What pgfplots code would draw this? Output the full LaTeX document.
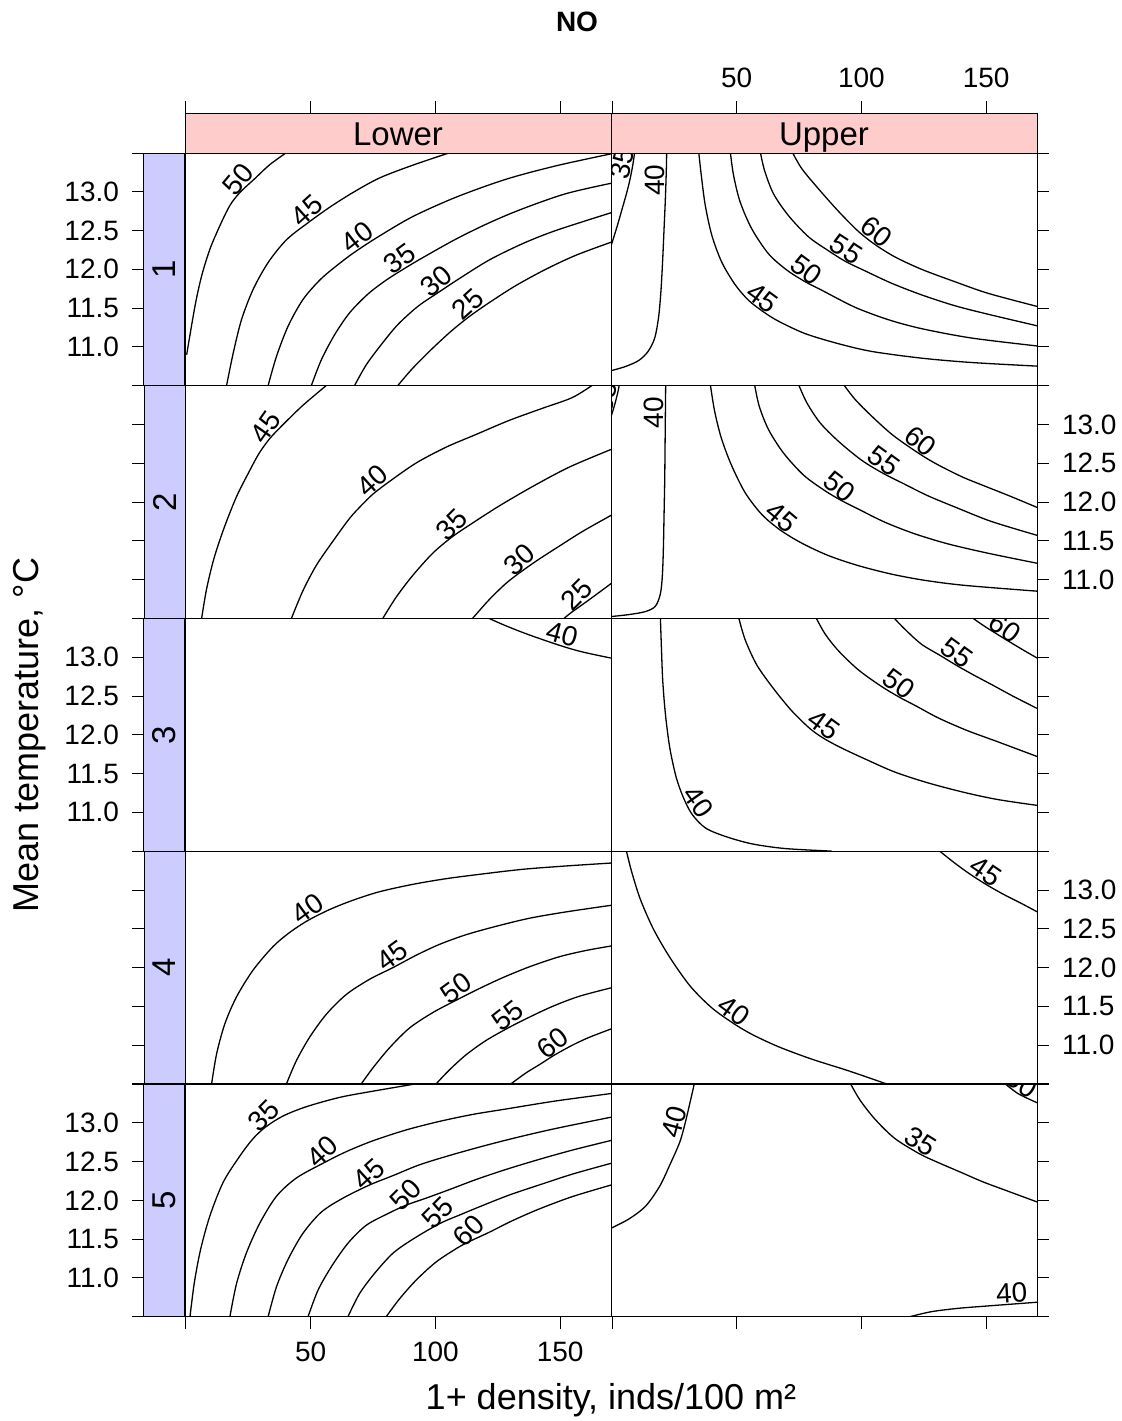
\documentclass[border=0pt]{standalone}
\usepackage{pgfplots}
\pgfplotsset{compat=1.18}
\usepackage{fontspec}
\setmainfont{Liberation Sans}

\definecolor{stripred}{HTML}{FFCCCC}
\definecolor{stripblue}{HTML}{CCCCFF}

\newcommand{\ticksize}{\fontsize{14}{16}\selectfont}
\newcommand{\labsize}{\fontsize{14}{16}\selectfont}
\newcommand{\stripsize}{\fontsize{16.5}{18}\selectfont}
\newcommand{\titlesize}{\fontsize{18}{21}\selectfont}

\pgfplotsset{
  frame/.style={scale only axis, anchor=north west,
    axis line style={line width=0.5pt},
    tick style={line width=0.5pt, black},
    major tick length=6pt, tick align=outside,
    xtick=\empty, ytick=\empty,
    ticklabel style={font=\ticksize},
    clip=true},
  panel/.style={frame, width=213pt, height=116.25pt,
    xmin=-0.4, xmax=170.4, ymin=10.5, ymax=13.5},
  temps/.style={ytick={10.5,11,11.5,12,12.5,13,13.5}},
  tlab/.style={yticklabels={{},11.0,11.5,12.0,12.5,13.0,{}}},
  tnolab/.style={yticklabels={{},{},{},{},{},{},{}}},
  rightcol/.style={panel, temps, ytick pos=right, yticklabel pos=right,
    yticklabel style={xshift=3pt}},
  bottomrow/.style={xtick={0,50,100,150}, xtick pos=left, xticklabel pos=left,
    xticklabel style={yshift=-3pt}},
  leftstrip/.style={frame, width=20.5pt, height=116.25pt,
    xmin=0, xmax=1, ymin=10.5, ymax=13.5, temps, ytick pos=left, yticklabel pos=left,
    yticklabel style={xshift=-3pt},
    axis background/.style={fill=stripblue}},
  topstrip/.style={frame, width=213pt, height=20pt,
    xmin=-0.4, xmax=170.4, ymin=0, ymax=1,
    xtick={0,50,100,150}, xtick pos=right, xticklabel pos=right,
    xticklabel style={yshift=3pt},
    axis background/.style={fill=stripred}},
  cont/.style={line width=0.65pt, black, smooth, no marks},
}
% contour labels stand on their line, turned along it
\tikzset{clab/.style={font=\labsize, anchor=south, inner sep=0.4pt}}
\newcommand{\clab}[4]{\node[clab, rotate=#3] at (axis cs:#1,#2) {#4};}

\begin{document}
\begin{tikzpicture}
\useasboundingbox (0,0) rectangle (561pt,-710.5pt);

\node[font=\bfseries\fontsize{14}{16}\selectfont] at (288.5pt,-11pt) {NO};
\node[font=\titlesize] at (305.5pt,-700pt) {1+ density, inds/100 m²};
\node[font=\titlesize, rotate=90] at (15pt,-367.5pt) {Mean temperature, °C};

% ---------- column strips ----------
\begin{axis}[topstrip, at={(92.5pt,-56.5pt)}, xticklabels={{},{},{},{}}]
\node[font=\stripsize, anchor=base] at (rel axis cs:0.5,0.2) {Lower};
\end{axis}
\begin{axis}[topstrip, at={(305.5pt,-56.5pt)}, xticklabels={{},50,100,150}]
\node[font=\stripsize, anchor=base] at (rel axis cs:0.5,0.2) {Upper};
\end{axis}

% ---------- row strips ----------
\begin{axis}[leftstrip, at={(72pt,-76.5pt)}, tlab]
\node[font=\stripsize, rotate=90] at (rel axis cs:0.5,0.5) {1};
\end{axis}
\begin{axis}[leftstrip, at={(72pt,-192.9pt)}, tnolab]
\node[font=\stripsize, rotate=90] at (rel axis cs:0.5,0.5) {2};
\end{axis}
\begin{axis}[leftstrip, at={(72pt,-309.3pt)}, tlab]
\node[font=\stripsize, rotate=90] at (rel axis cs:0.5,0.5) {3};
\end{axis}
\begin{axis}[leftstrip, at={(72pt,-425.7pt)}, tnolab]
\node[font=\stripsize, rotate=90] at (rel axis cs:0.5,0.5) {4};
\end{axis}
\begin{axis}[leftstrip, at={(72pt,-542.1pt)}, tlab]
\node[font=\stripsize, rotate=90] at (rel axis cs:0.5,0.5) {5};
\end{axis}

% ---------- row 1 ----------
\begin{axis}[panel, at={(92.5pt,-76.5pt)}]
\addplot[cont] coordinates {(0.27,10.897)(3.6,11.524)(6.27,11.914)(9.6,12.26)(13.6,12.563)(17.6,12.823)(21.6,12.99)(27.6,13.17)(33.6,13.35)(40.93,13.52)};
\addplot[cont] coordinates {(16.27,10.5)(18.93,10.918)(22.27,11.351)(26.93,11.741)(32.93,12.087)(40.27,12.38)(48.93,12.6)(57.6,12.8)(66.93,12.99)(77.6,13.178)(90.93,13.343)(107.6,13.524)};
\addplot[cont] coordinates {(32.93,10.5)(36.27,10.875)(40.93,11.265)(46.93,11.611)(54.27,11.88)(62.93,12.11)(68.93,12.25)(77.6,12.43)(90.93,12.68)(108.27,12.93)(128.27,13.161)(148.27,13.334)(170.5,13.49)};
\addplot[cont] coordinates {(50.27,10.5)(54.27,10.832)(59.6,11.156)(65.6,11.438)(72.93,11.68)(80.27,11.86)(87.6,12.01)(94.93,12.15)(108.27,12.39)(121.6,12.6)(134.93,12.78)(152.27,12.975)(170.5,13.11)};
\addplot[cont] coordinates {(67.6,10.5)(72.27,10.767)(78.27,11.027)(84.93,11.286)(92.93,11.52)(100.67,11.69)(109.6,11.88)(121.6,12.12)(134.93,12.33)(148.27,12.5)(170.5,12.73)};
\addplot[cont] coordinates {(84.93,10.5)(90.93,10.724)(98.27,10.962)(106.27,11.2)(113.6,11.39)(121.6,11.57)(132.27,11.79)(144.27,12.0)(156.27,12.18)(170.5,12.35)};
\clab{24.39}{13.07}{50}{50}
\clab{51.35}{12.65}{42}{45}
\clab{71.4}{12.3}{38}{40}
\clab{88.2}{12.02}{36}{35}
\clab{103.1}{11.74}{40}{30}
\clab{116}{11.44}{42}{25}
\end{axis}

\begin{axis}[rightcol, tnolab, at={(305.5pt,-76.5pt)}]
\addplot[cont] coordinates {(-0.5,12.29)(2.07,12.555)(4.07,12.78)(5.8,12.975)(7.13,13.148)(8.33,13.343)(9.13,13.524)};
\addplot[cont] coordinates {(-0.5,10.69)(5.4,10.745)(10.73,10.823)(14.47,10.94)(17.13,11.113)(18.73,11.394)(19.67,11.741)(20.33,12.13)(20.87,12.52)(21.4,12.91)(21.8,13.299)(21.93,13.524)};
\addplot[cont] coordinates {(34.73,13.524)(35.8,13.213)(37.4,12.823)(40.07,12.433)(44.07,12.087)(49.4,11.8)(54.73,11.6)(60.73,11.45)(66.73,11.33)(77.4,11.17)(90.73,11.04)(104.07,10.94)(124.07,10.853)(144.07,10.797)(170.5,10.75)};
\addplot[cont] coordinates {(47.4,13.524)(48.73,13.213)(51.4,12.866)(56.07,12.52)(62.73,12.2)(70.07,11.99)(77.4,11.84)(84.07,11.73)(97.4,11.51)(110.73,11.35)(124.07,11.234)(144.07,11.113)(170.5,11.01)};
\addplot[cont] coordinates {(59.4,13.524)(61.13,13.278)(64.73,12.975)(70.73,12.693)(78.73,12.42)(86.73,12.24)(93.67,12.1)(101.4,11.98)(112.07,11.82)(124.07,11.67)(137.4,11.53)(150.73,11.42)(170.5,11.27)};
\addplot[cont] coordinates {(72.07,13.524)(76.07,13.299)(82.73,13.04)(90.73,12.75)(98.73,12.49)(105.4,12.32)(113.4,12.16)(124.07,12.0)(137.4,11.84)(150.73,11.69)(170.5,11.52)};
\clab{8.3}{13.34}{78}{35}
\clab{21.64}{13.15}{90}{40}
\clab{57.7}{11.52}{-36}{45}
\clab{75.3}{11.88}{-36}{50}
\clab{91.5}{12.14}{-33}{55}
\clab{103.2}{12.37}{-38}{60}
\end{axis}

% ---------- row 2 ----------
\begin{axis}[panel, at={(92.5pt,-192.9pt)}]
\addplot[cont] coordinates {(6.27,10.5)(8.27,10.881)(11.2,11.271)(15.2,11.66)(20.27,12.071)(25.6,12.41)(29.33,12.63)(33.6,12.82)(38.93,13.0)(46.93,13.25)(56.93,13.522)};
\addplot[cont] coordinates {(42.27,10.5)(46.93,10.859)(52.27,11.184)(58.93,11.496)(65.6,11.79)(70.27,11.955)(74.93,12.102)(81.6,12.266)(92.27,12.504)(104.27,12.708)(116.27,12.872)(129.6,13.054)(142.93,13.21)(154.93,13.349)(163.6,13.522)};
\addplot[cont] coordinates {(78.93,10.5)(84.27,10.773)(90.93,11.054)(98.93,11.34)(106.67,11.55)(114.93,11.73)(125.6,11.95)(138.93,12.2)(153.6,12.45)(170.5,12.68)};
\addplot[cont] coordinates {(114.93,10.5)(121.6,10.742)(128.27,10.95)(133.87,11.09)(140.93,11.25)(149.6,11.43)(158.93,11.62)(170.5,11.83)};
\addplot[cont] coordinates {(151.6,10.5)(154.27,10.57)(157.33,10.64)(162.93,10.77)(170.5,10.95)};
\clab{35.55}{12.886}{55}{45}
\clab{77.76}{12.17}{42}{40}
\clab{109.5}{11.61}{45}{35}
\clab{136.55}{11.15}{42}{30}
\clab{159.76}{10.7}{45}{25}
\end{axis}

\begin{axis}[rightcol, tlab, at={(305.5pt,-192.9pt)}]
\addplot[cont] coordinates {(-0.5,13.09)(1.13,13.262)(2.47,13.435)(3.0,13.53)};
\addplot[cont] coordinates {(-0.5,10.522)(6.73,10.548)(13.4,10.587)(17.4,10.656)(19.4,10.816)(20.2,11.054)(20.6,11.4)(20.87,11.833)(21.13,12.266)(21.27,12.699)(21.4,13.132)(21.53,13.53)};
\addplot[cont] coordinates {(39.4,13.522)(41.13,13.175)(43.8,12.829)(47.8,12.483)(53.4,12.12)(60.07,11.84)(67.4,11.64)(76.07,11.47)(86.73,11.31)(98.73,11.18)(112.07,11.07)(125.4,10.99)(141.4,10.925)(170.5,10.85)};
\addplot[cont] coordinates {(57.13,13.522)(59.0,13.24)(62.73,12.937)(68.73,12.634)(76.73,12.35)(84.73,12.16)(91.4,12.03)(98.73,11.91)(109.4,11.74)(121.4,11.59)(134.73,11.46)(150.73,11.34)(170.5,11.21)};
\addplot[cont] coordinates {(74.73,13.522)(78.07,13.284)(83.4,13.024)(90.73,12.786)(100.07,12.54)(108.73,12.37)(116.73,12.24)(126.73,12.08)(138.73,11.92)(152.07,11.75)(170.5,11.57)};
\addplot[cont] coordinates {(92.73,13.522)(97.4,13.327)(104.07,13.11)(112.73,12.86)(123.4,12.62)(130.73,12.48)(140.73,12.32)(150.73,12.19)(160.07,12.07)(170.5,11.93)};
\clab{1.6}{13.32}{78}{35}
\clab{21.35}{13.154}{90}{40}
\clab{65.23}{11.7}{-40}{45}
\clab{88.54}{12.086}{-38}{50}
\clab{106.4}{12.415}{-36}{55}
\clab{120.94}{12.675}{-38}{60}
\end{axis}

% ---------- row 3 ----------
\begin{axis}[panel, at={(92.5pt,-309.3pt)}]
\addplot[cont] coordinates {(120.27,13.52)(128.27,13.407)(137.6,13.29)(150.27,13.15)(158.93,13.07)(170.5,12.99)};
\clab{149.6}{13.157}{-15}{40}
\end{axis}

\begin{axis}[rightcol, tnolab, at={(305.5pt,-309.3pt)}]
\addplot[cont] coordinates {(19.4,13.52)(19.8,13.139)(20.33,12.706)(21.4,12.273)(23.13,11.84)(25.67,11.46)(28.5,11.2)(32,10.98)(37.4,10.8)(45.4,10.69)(56.07,10.594)(69.4,10.533)(88.07,10.5)};
\addplot[cont] coordinates {(50.73,13.52)(53.4,13.226)(58.07,12.901)(64.73,12.598)(72.07,12.31)(79.4,12.08)(85.13,11.95)(92.07,11.83)(102.07,11.68)(113.4,11.52)(126.73,11.38)(141.4,11.256)(154.73,11.165)(170.5,11.09)};
\addplot[cont] coordinates {(81.67,13.52)(85.4,13.304)(90.73,13.087)(98.73,12.84)(107.8,12.63)(115,12.49)(122.07,12.37)(130.73,12.22)(142.07,12.06)(154.73,11.91)(170.5,11.72)};
\addplot[cont] coordinates {(112.73,13.52)(117.4,13.364)(124.07,13.17)(131.8,13.02)(138.47,12.89)(145.13,12.77)(152.73,12.64)(160.73,12.5)(170.5,12.34)};
\addplot[cont] coordinates {(144.07,13.52)(149.4,13.4)(157.4,13.24)(164.07,13.11)(170.5,12.99)};
\clab{30.8}{11.05}{-55}{40}
\clab{82.4}{12.01}{-36}{45}
\clab{112.4}{12.54}{-36}{50}
\clab{135.7}{12.94}{-36}{55}
\clab{155}{13.27}{-36}{60}
\end{axis}

% ---------- row 4 ----------
\begin{axis}[panel, at={(92.5pt,-425.7pt)}]
\addplot[cont] coordinates {(10.27,10.5)(12.27,10.888)(15.6,11.278)(20.27,11.624)(26.93,11.97)(34.93,12.273)(41.6,12.455)(48.93,12.61)(57.6,12.75)(66.93,12.87)(77.6,12.98)(90.93,13.075)(104.27,13.148)(117.6,13.204)(134.93,13.269)(152.27,13.312)(170.5,13.35)};
\addplot[cont] coordinates {(40.27,10.5)(44.27,10.801)(49.6,11.104)(56.27,11.399)(64.27,11.654)(73.6,11.85)(82.93,12.0)(92.27,12.16)(101.6,12.3)(112.27,12.425)(124.27,12.533)(137.6,12.637)(152.27,12.719)(170.5,12.805)};
\addplot[cont] coordinates {(70.27,10.5)(74.93,10.706)(81.6,10.966)(89.6,11.221)(98.93,11.42)(108.93,11.59)(117.6,11.73)(126.93,11.87)(137.6,12.01)(149.6,12.14)(160.27,12.221)(170.5,12.28)};
\addplot[cont] coordinates {(100.27,10.5)(105.6,10.68)(112.27,10.875)(120.27,11.06)(129.6,11.23)(137.6,11.36)(146.93,11.5)(157.6,11.63)(170.5,11.74)};
\addplot[cont] coordinates {(130.27,10.5)(136.27,10.641)(142.27,10.76)(147.6,10.87)(154.93,11.0)(161.6,11.1)(170.5,11.21)};
\clab{51.3}{12.648}{36}{40}
\clab{85.3}{12.04}{36}{45}
\clab{110.9}{11.62}{36}{50}
\clab{131.8}{11.266}{38}{55}
\clab{149.8}{10.91}{38}{60}
\end{axis}

\begin{axis}[rightcol, tlab, at={(305.5pt,-425.7pt)}]
\addplot[cont] coordinates {(5.67,13.52)(7.8,13.247)(11.4,12.879)(16.73,12.49)(23.4,12.122)(31.4,11.76)(40.07,11.48)(48.73,11.28)(56.07,11.14)(66.73,10.98)(80.07,10.82)(94.73,10.67)(110.07,10.5)};
\addplot[cont] coordinates {(130.73,13.52)(137.4,13.35)(143.4,13.21)(149.67,13.08)(156.73,12.95)(164.07,12.83)(170.5,12.72)};
\clab{46.4}{11.33}{-36}{40}
\clab{147.4}{13.127}{-34}{45}
\end{axis}

% ---------- row 5 ----------
\begin{axis}[panel, bottomrow, xticklabels={{},50,100,150}, at={(92.5pt,-542.1pt)}]
\addplot[cont] coordinates {(1.6,10.5)(3.33,10.937)(5.87,11.37)(9.6,11.803)(14.93,12.236)(21.6,12.574)(26.93,12.799)(32,12.95)(38.93,13.09)(48.27,13.21)(61.6,13.33)(74.93,13.41)(94.93,13.52)};
\addplot[cont] coordinates {(17.6,10.5)(20.27,10.929)(24.27,11.327)(29.6,11.708)(36.27,12.054)(44.27,12.29)(54.93,12.48)(64.27,12.63)(74.93,12.77)(88.27,12.91)(101.6,13.02)(114.93,13.11)(128.27,13.18)(148.27,13.284)(170.5,13.38)};
\addplot[cont] coordinates {(32.93,10.5)(36.27,10.885)(40.93,11.24)(46.93,11.578)(54.27,11.85)(62.93,12.03)(73.6,12.2)(82.93,12.32)(93.6,12.46)(105.6,12.58)(118.93,12.7)(132.27,12.81)(148.27,12.929)(170.5,13.075)};
\addplot[cont] coordinates {(48.93,10.5)(52.93,10.842)(58.27,11.145)(64.93,11.448)(72.27,11.68)(80.93,11.83)(88.27,11.94)(96.27,12.03)(105.6,12.14)(116.27,12.27)(128.27,12.4)(141.6,12.53)(154.93,12.65)(170.5,12.775)};
\addplot[cont] coordinates {(64.93,10.5)(69.6,10.799)(75.6,11.059)(82.93,11.318)(90.93,11.5)(101.6,11.7)(110.27,11.82)(118.93,11.935)(129.6,12.07)(141.6,12.2)(154.93,12.34)(170.5,12.48)};
\addplot[cont] coordinates {(80.27,10.5)(85.6,10.73)(92.27,10.972)(100.27,11.206)(108.93,11.39)(113.6,11.47)(121.6,11.59)(130.93,11.74)(141.6,11.89)(154.93,12.05)(170.5,12.2)};
\clab{34.4}{12.99}{45}{35}
\clab{57.6}{12.523}{42}{40}
\clab{76.3}{12.235}{42}{45}
\clab{91.1}{11.972}{45}{50}
\clab{104.2}{11.735}{45}{55}
\clab{116.4}{11.512}{45}{60}
\end{axis}

\begin{axis}[rightcol, tnolab, bottomrow, xticklabels={{},{},{},{}}, at={(305.5pt,-542.1pt)}]
\addplot[cont] coordinates {(-0.5,11.64)(6.73,11.76)(13.4,11.924)(19.13,12.184)(23.4,12.474)(27.2,12.755)(29.3,12.994)(31.2,13.253)(32.6,13.448)(33.13,13.53)};
\addplot[cont] coordinates {(95.4,13.52)(99.4,13.297)(105.4,13.05)(113.4,12.8)(123.4,12.6)(130.73,12.49)(139.4,12.37)(148.73,12.24)(158.73,12.12)(170.5,11.98)};
\addplot[cont] coordinates {(156.73,13.53)(162.73,13.38)(170.5,13.26)};
\addplot[cont] coordinates {(119.4,10.5)(128.07,10.565)(138.73,10.608)(150.73,10.639)(161.4,10.665)(170.5,10.687)};
\clab{29.1}{12.975}{75}{40}
\clab{121.3}{12.642}{-32}{35}
\clab{162}{13.395}{-32}{50}
\clab{160.5}{10.663}{3}{40}
\end{axis}

\end{tikzpicture}
\end{document}
